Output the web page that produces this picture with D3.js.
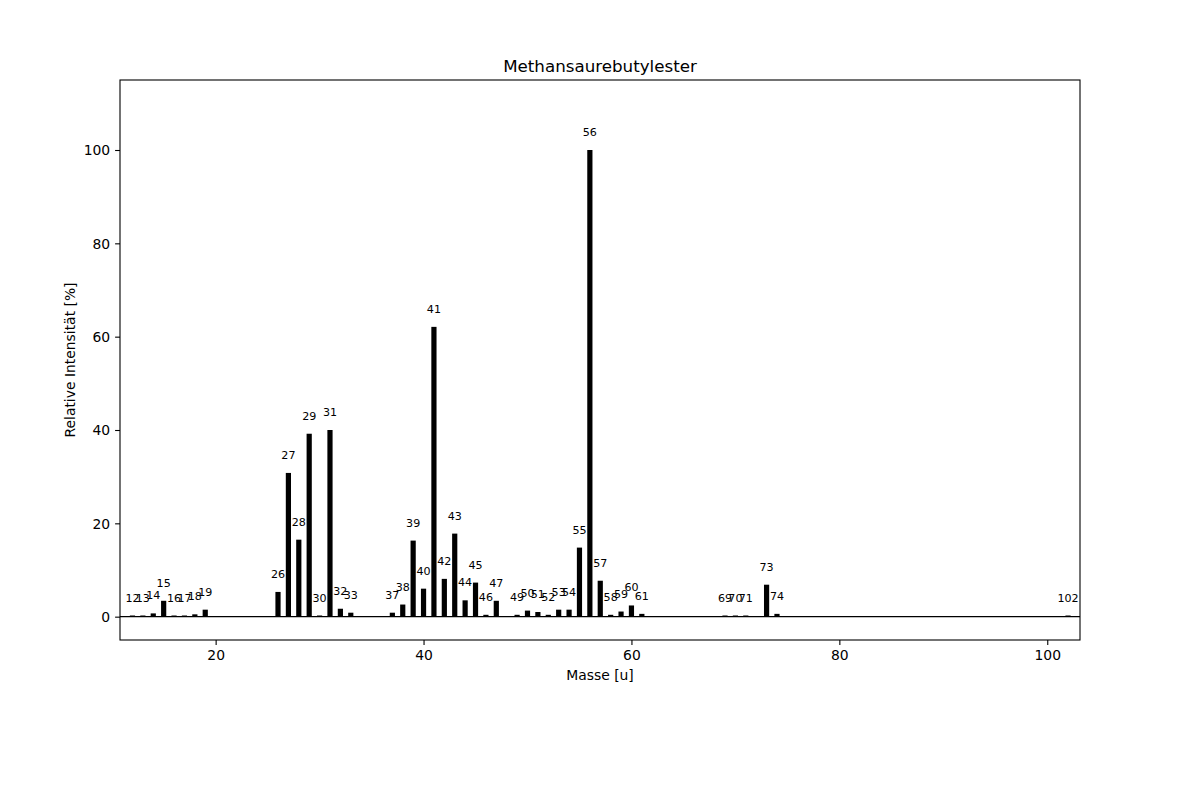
<!DOCTYPE html>
<html>
<head>
<meta charset="utf-8">
<script src="https://cdn.jsdelivr.net/npm/d3@7/dist/d3.min.js"></script>
<style>
  body { margin: 0; background: #fff; }
  svg text { font-family: "DejaVu Sans", sans-serif; fill: #000; }
</style>
</head>
<body>
<svg id="chart" width="1200" height="800"></svg>
<script>
// mass numbers (u) and relative intensities (%)
const masses = [12, 13, 14, 15, 16, 17, 18, 19, 26, 27, 28, 29, 30, 31, 32, 33,
  37, 38, 39, 40, 41, 42, 43, 44, 45, 46, 47, 49, 50, 51, 52, 53, 54, 55, 56, 57,
  58, 59, 60, 61, 69, 70, 71, 73, 74, 102];
const intensities = [0.25, 0.25, 0.7, 3.4, 0.25, 0.25, 0.5, 1.5, 5.3, 30.8, 16.5, 39.2, 0.25, 40.0, 1.7, 0.85,
  0.85, 2.6, 16.3, 6.0, 62.1, 8.1, 17.8, 3.5, 7.3, 0.4, 3.4, 0.4, 1.3, 1.0, 0.4, 1.5, 1.5, 14.8, 100, 7.7,
  0.4, 1.1, 2.4, 0.6, 0.25, 0.25, 0.25, 6.85, 0.6, 0.25];
const xTicks = [20, 40, 60, 80, 100];
const yTicks = [0, 20, 40, 60, 80, 100];

const TITLE = 'Methansaurebutylester';
const X_LABEL = 'Masse [u]';
const Y_LABEL = 'Relative Intensität [%]';

const AXES_LEFT_PX = 120;
const AXES_RIGHT_PX = 1080;
const AXES_TOP_PX = 80;
const AXES_BOTTOM_PX = 640;
const BAR_WIDTH_U = 0.5;
const TICK_LEN_PX = 4.9;
const LABEL_GAP_PX = 14;

const spectrum = masses.map((m, i) => ({ m, v: intensities[i] }));

const svg = d3.select('#chart');

const x = d3.scaleLinear().domain([10.8, 103.15]).range([AXES_LEFT_PX, AXES_RIGHT_PX]);
const y = d3.scaleLinear().domain([-5, 115]).range([AXES_BOTTOM_PX, AXES_TOP_PX]);

const barW = x(BAR_WIDTH_U) - x(0);

// bars
svg.append('g')
  .selectAll('rect')
  .data(spectrum)
  .join('rect')
    .attr('x', d => x(d.m) - barW / 2)
    .attr('y', d => y(d.v))
    .attr('width', barW)
    .attr('height', d => y(0) - y(d.v))
    .attr('fill', '#000');

// zero line
svg.append('line')
  .attr('x1', AXES_LEFT_PX)
  .attr('x2', AXES_RIGHT_PX)
  .attr('y1', y(0))
  .attr('y2', y(0))
  .attr('stroke', '#000')
  .attr('stroke-width', 1.3);

// mass labels over the bars
svg.append('g')
  .selectAll('text')
  .data(spectrum)
  .join('text')
    .attr('x', d => x(d.m))
    .attr('y', d => y(d.v) - LABEL_GAP_PX)
    .attr('text-anchor', 'middle')
    .attr('font-size', '11.1px')
    .text(d => d.m);

// axes
const xAxis = d3.axisBottom(x)
  .tickValues(xTicks)
  .tickSize(TICK_LEN_PX)
  .tickPadding(4.9)
  .tickFormat(d3.format('d'));

const yAxis = d3.axisLeft(y)
  .tickValues(yTicks)
  .tickSize(TICK_LEN_PX)
  .tickPadding(4.9)
  .tickFormat(d3.format('d'));

const gx = svg.append('g')
  .attr('transform', `translate(0,${AXES_BOTTOM_PX})`)
  .call(xAxis);

const gy = svg.append('g')
  .attr('transform', `translate(${AXES_LEFT_PX},0)`)
  .call(yAxis);

[gx, gy].forEach(g => {
  g.select('.domain').remove();
  g.selectAll('.tick line').attr('stroke', '#000').attr('stroke-width', 1.1);
  g.selectAll('.tick text')
    .attr('font-size', '13.9px')
    .attr('font-family', '"DejaVu Sans", sans-serif')
    .attr('fill', '#000');
});
gy.selectAll('.tick text').attr('dy', '0.35em');

// frame
svg.append('rect')
  .attr('x', AXES_LEFT_PX)
  .attr('y', AXES_TOP_PX)
  .attr('width', AXES_RIGHT_PX - AXES_LEFT_PX)
  .attr('height', AXES_BOTTOM_PX - AXES_TOP_PX)
  .attr('fill', 'none')
  .attr('stroke', '#000')
  .attr('stroke-width', 1.1);

// title and axis labels
svg.append('text')
  .attr('x', (AXES_LEFT_PX + AXES_RIGHT_PX) / 2)
  .attr('y', 72)
  .attr('text-anchor', 'middle')
  .attr('font-size', '16.7px')
  .text(TITLE);

svg.append('text')
  .attr('x', (AXES_LEFT_PX + AXES_RIGHT_PX) / 2)
  .attr('y', 680)
  .attr('text-anchor', 'middle')
  .attr('font-size', '13.9px')
  .text(X_LABEL);

svg.append('text')
  .attr('transform', `translate(75,${(AXES_TOP_PX + AXES_BOTTOM_PX) / 2}) rotate(-90)`)
  .attr('text-anchor', 'middle')
  .attr('font-size', '13.9px')
  .text(Y_LABEL);
</script>
</body>
</html>
